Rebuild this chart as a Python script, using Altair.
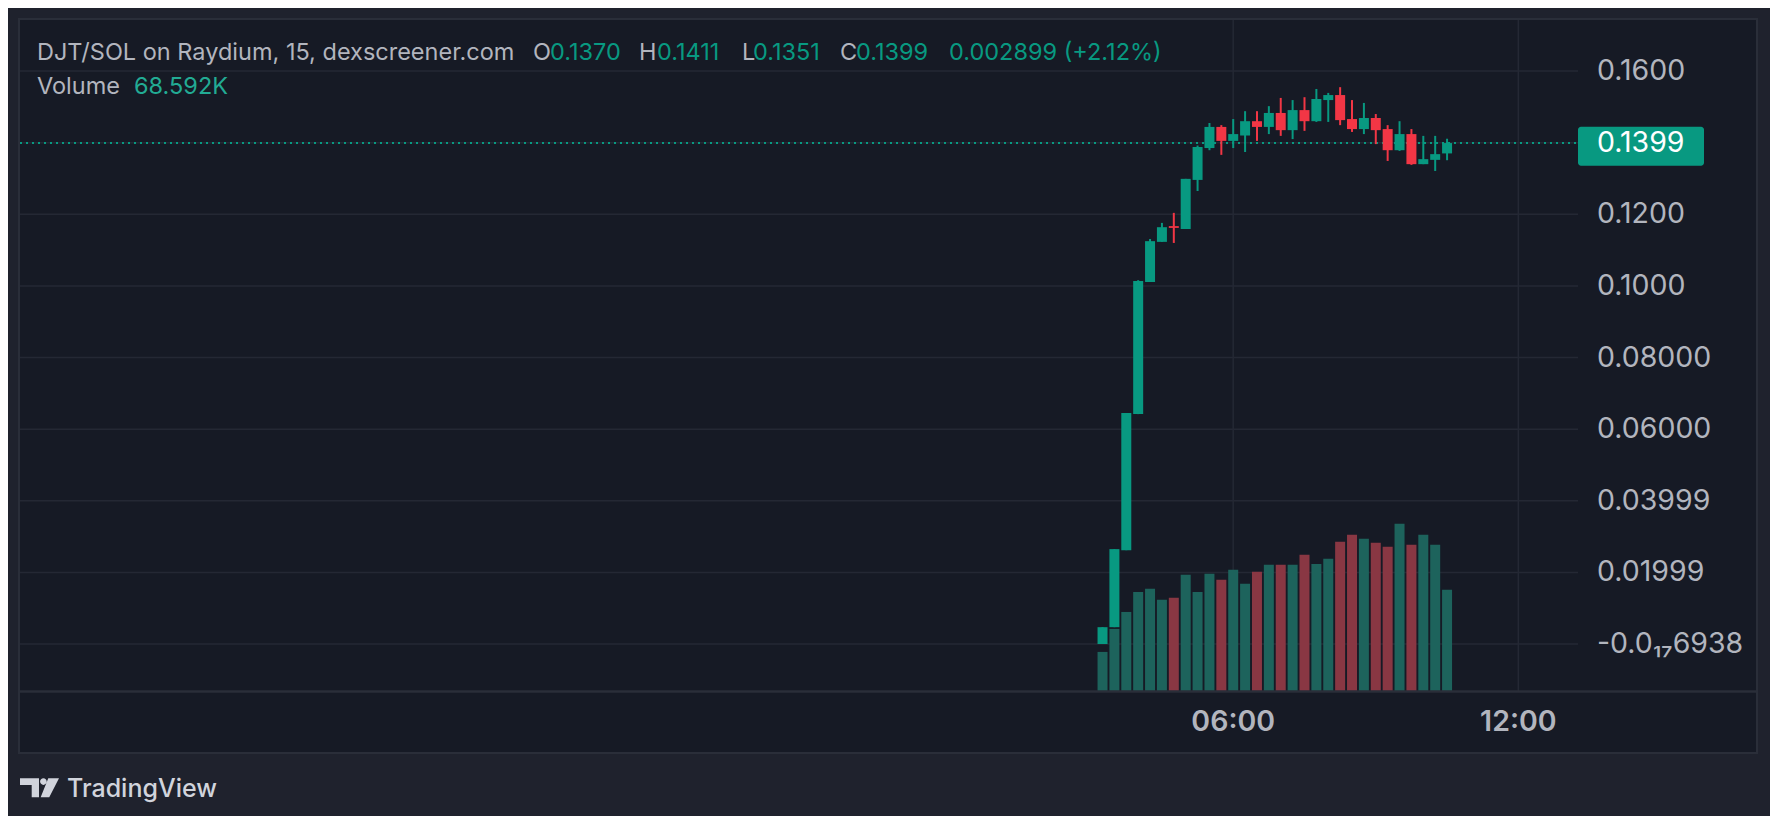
import altair as alt
import pandas as pd

# ---------------- data ----------------
times = ["03:15", "03:30", "03:45", "04:00", "04:15", "04:30", "04:45", "05:00",
         "05:15", "05:30", "05:45", "06:00", "06:15", "06:30", "06:45", "07:00",
         "07:15", "07:30", "07:45", "08:00", "08:15", "08:30", "08:45", "09:00",
         "09:15", "09:30", "09:45", "10:00", "10:15", "10:30"]
opens = [0.0000, 0.0047, 0.0262, 0.0642, 0.1011, 0.1123, 0.1167, 0.1159,
         0.1296, 0.1385, 0.1444, 0.1405, 0.1420, 0.1460, 0.1444, 0.1483,
         0.1435, 0.1491, 0.1460, 0.1519, 0.1533, 0.1466, 0.1438, 0.1469,
         0.1438, 0.1379, 0.1424, 0.1340, 0.1352, 0.1370]
highs = [0.0047, 0.0265, 0.0645, 0.1016, 0.1131, 0.1176, 0.1204, 0.1299,
         0.1392, 0.1455, 0.1449, 0.1466, 0.1488, 0.1488, 0.1502, 0.1525,
         0.1519, 0.1527, 0.1550, 0.1539, 0.1555, 0.1519, 0.1511, 0.1480,
         0.1449, 0.1460, 0.1438, 0.1419, 0.1419, 0.1411]
lows = [0.0000, 0.0047, 0.0262, 0.0642, 0.1011, 0.1123, 0.1120, 0.1159,
        0.1265, 0.1379, 0.1366, 0.1385, 0.1374, 0.1405, 0.1424, 0.1419,
        0.1410, 0.1433, 0.1458, 0.1458, 0.1449, 0.1430, 0.1424, 0.1396,
        0.1349, 0.1377, 0.1338, 0.1340, 0.1321, 0.1351]
closes = [0.0047, 0.0265, 0.0645, 0.1014, 0.1125, 0.1164, 0.1162, 0.1299,
          0.1388, 0.1444, 0.1405, 0.1424, 0.1460, 0.1444, 0.1483, 0.1435,
          0.1491, 0.1460, 0.1522, 0.1533, 0.1463, 0.1438, 0.1469, 0.1435,
          0.1379, 0.1424, 0.1340, 0.1354, 0.1368, 0.1399]
volumes_k = [26.5, 42.1, 53.6, 67.2, 69.3, 61.8, 63.2, 78.8, 67.2, 79.5,
             75.4, 82.2, 72.7, 80.8, 85.6, 85.6, 85.6, 92.4, 86.2, 89.6,
             101.2, 105.9, 103.2, 100.5, 97.8, 113.4, 99.2, 105.9, 99.2, 68.592]

price_ticks = [0.16, 0.14, 0.12, 0.10, 0.08, 0.06, 0.04, 0.02, 0.0]
price_tick_labels = ["0.1600", "", "0.1200", "0.1000", "0.08000", "0.06000",
                     "0.03999", "0.01999", "-0.0\u2081\u20876938"]
time_ticks = ["06:00", "12:00"]

title_text = "DJT/SOL on Raydium, 15, dexscreener.com"
ohlc_keys = ["O", "H", "L", "C"]
ohlc_values = ["0.1370", "0.1411", "0.1351", "0.1399"]
change_text = "0.002899 (+2.12%)"
volume_title = "Volume"
volume_value = "68.592K"
last_price = 0.1399
last_price_text = "0.1399"
brand_text = "TradingView"

# ---------------- styles ----------------
FONT = "Inter"
GREEN = "#089981"
RED = "#f23645"
VOL_GREEN = "#1d635c"
VOL_RED = "#893743"
OUTER = "#1f222d"
PANEL = "#161a25"
GRID = "#242834"
BORDER = "#2a2e39"
TEXT = "#b2b5be"
LOGO = "#d1d4dc"
HFS = 23.5   # header font size
AFS = 28.5   # axis font size

W, H = 1558, 671

LOGO_PATH = ("M-1,-0.472 L-0.026,-0.472 L-0.026,0.503 L-0.4,0.503 L-0.4,-0.128 L-1,-0.128 Z "
             "M0.03,-0.303 A0.17,0.17 0 1,0 0.37,-0.303 A0.17,0.17 0 1,0 0.03,-0.303 Z "
             "M0.45,-0.472 L1,-0.472 L0.5,0.503 L0.06,0.503 Z")


def to_hours(t):
    hh, mm = t.split(":")
    return int(hh) + int(mm) / 60.0


df = pd.DataFrame({"t": times, "o": opens, "h": highs, "l": lows, "c": closes, "vol": volumes_k})
df["x"] = df["t"].map(to_hours)
df["lo"] = df[["o", "c"]].min(axis=1)
df["hi"] = df[["o", "c"]].max(axis=1)
df["dir"] = ["up" if c >= o else "down" for o, c in zip(df["o"], df["c"])]

ticks_df = pd.DataFrame({"v": price_ticks, "label": price_tick_labels})
tt_df = pd.DataFrame({"t": time_ticks})
tt_df["x"] = tt_df["t"].map(to_hours)
last_df = pd.DataFrame({"c": [last_price], "label": [last_price_text]})
one = pd.DataFrame({"a": [0]})

XS = alt.Scale(domain=[-19.424, 13.15], nice=False, zero=False)
PS = alt.Scale(domain=[-0.013125, 0.17426], nice=False, zero=False)
VS = alt.Scale(domain=[0, 455], nice=False, zero=False)

xenc = alt.X("x:Q", scale=XS, axis=None)

panel = alt.Chart(one).mark_rect(color=PANEL).encode(
    x=alt.value(0), x2=alt.value(1737), y=alt.value(0), y2=alt.value(732))

hgrid = alt.Chart(ticks_df).mark_rule(color=GRID, strokeWidth=1.5).encode(
    y=alt.Y("v:Q", scale=PS, axis=None), x=alt.value(0), x2=alt.value(W))

vgrid = alt.Chart(tt_df).mark_rule(color=GRID, strokeWidth=1.5).encode(
    x=xenc, y=alt.value(0), y2=alt.value(H))

volume = alt.Chart(df).mark_bar(size=10).encode(
    x=xenc,
    y=alt.Y("vol:Q", scale=VS, axis=None),
    color=alt.Color("dir:N", scale=alt.Scale(domain=["up", "down"], range=[VOL_GREEN, VOL_RED]), legend=None),
)

dotted = alt.Chart(last_df).mark_rule(color=GREEN, strokeWidth=2, strokeDash=[2, 4]).encode(
    y=alt.Y("c:Q", scale=PS, axis=None), x=alt.value(0), x2=alt.value(W))

wicks = alt.Chart(df).mark_rule(strokeWidth=2).encode(
    x=xenc,
    y=alt.Y("l:Q", scale=PS, axis=None),
    y2="h:Q",
    color=alt.Color("dir:N", scale=alt.Scale(domain=["up", "down"], range=[GREEN, RED]), legend=None),
)

bodies = alt.Chart(df).mark_bar(size=10).encode(
    x=xenc,
    y=alt.Y("lo:Q", scale=PS, axis=None),
    y2="hi:Q",
    color=alt.Color("dir:N", scale=alt.Scale(domain=["up", "down"], range=[GREEN, RED]), legend=None),
)

sep = alt.Chart(one).mark_rule(color=BORDER, strokeWidth=2.5).encode(
    x=alt.value(0), x2=alt.value(1737), y=alt.value(H + 0.5))
border = alt.Chart(one).mark_rect(fillOpacity=0, stroke=BORDER, strokeWidth=2).encode(
    x=alt.value(-1), x2=alt.value(1737), y=alt.value(-1), y2=alt.value(733))

price_labels = alt.Chart(ticks_df).mark_text(
    align="left", baseline="middle", font=FONT, fontSize=AFS, color=TEXT).encode(
    y=alt.Y("v:Q", scale=PS, axis=None), x=alt.value(1577), text="label:N")

badge = alt.Chart(last_df).mark_bar(orient="horizontal", size=39, color=GREEN, cornerRadiusEnd=3).encode(
    y=alt.Y("c:Q", scale=PS, axis=None), x=alt.value(1558), x2=alt.value(1684))
badge_text = alt.Chart(last_df).mark_text(
    align="left", baseline="middle", font=FONT, fontSize=AFS, color="#ffffff").encode(
    y=alt.Y("c:Q", scale=PS, axis=None), x=alt.value(1577), text="label:N")

time_labels = alt.Chart(tt_df).mark_text(
    align="center", baseline="middle", font=FONT, fontSize=AFS, fontWeight=600, color=TEXT).encode(
    x=xenc, y=alt.value(702), text="t:N")


def txt(s, x, y, color, size=HFS, weight=400, align="left", baseline="middle"):
    return alt.Chart(one).mark_text(
        text=s, align=align, baseline=baseline, font=FONT, fontSize=size,
        fontWeight=weight, color=color).encode(x=alt.value(x), y=alt.value(y))


header = [
    txt(title_text, 17, 33, TEXT),
    txt(ohlc_keys[0], 513, 33, TEXT), txt(ohlc_values[0], 530, 33, GREEN),
    txt(ohlc_keys[1], 619, 33, TEXT), txt(ohlc_values[1], 637, 33, GREEN),
    txt(ohlc_keys[2], 722, 33, TEXT), txt(ohlc_values[2], 733, 33, GREEN),
    txt(ohlc_keys[3], 820, 33, TEXT), txt(ohlc_values[3], 836, 33, GREEN),
    txt(change_text, 929, 33, GREEN),
    txt(volume_title, 17, 67, TEXT), txt(volume_value, 114, 67, "#22ab94"),
]

logo_icon = alt.Chart(one).mark_point(
    shape=LOGO_PATH, size=39 * 39, filled=True, color=LOGO, opacity=1, strokeWidth=0).encode(
    x=alt.value(19.5), y=alt.value(767.5))
logo = [
    logo_icon,
    txt(brand_text, 47, 777, LOGO, size=25, weight=500, baseline="alphabetic"),
]

chart = alt.layer(
    panel, hgrid, vgrid, volume, dotted, wicks, bodies, sep, border,
    price_labels, badge, badge_text, time_labels, *header, *logo
).resolve_scale(
    y="independent", color="independent"
).properties(
    width=W, height=H,
    autosize=alt.AutoSizeParams(type="none"),
    padding={"left": 12, "top": 12, "right": 192, "bottom": 125},
    background=OUTER,
).configure_view(stroke=None, fill=PANEL)

chart.save("out.html", embed_options={"renderer": "svg", "actions": False})
